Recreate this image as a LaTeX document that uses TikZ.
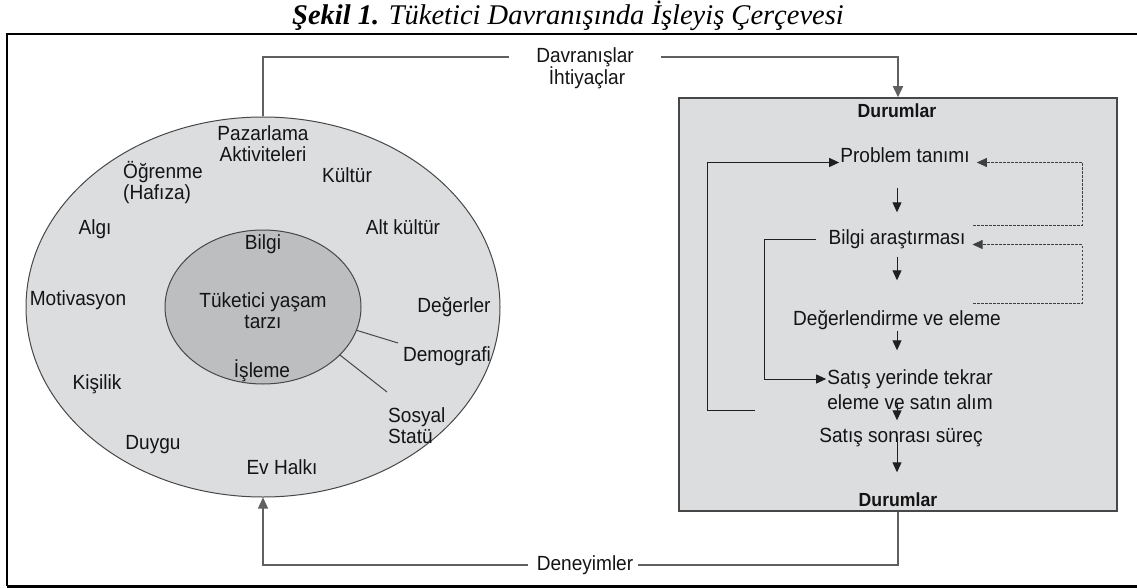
\documentclass[tikz,border=0pt]{standalone}
\usepackage{fontspec}
\setmainfont{Liberation Sans}[FakeStretch=0.93]
\newfontfamily\titlefont{Liberation Serif}
\usepackage{tikz}
\usetikzlibrary{arrows.meta, positioning, shapes.geometric}
\definecolor{panelGray}{HTML}{DCDDDF}
\definecolor{coreGray}{HTML}{BDBEC0}
\definecolor{edgeGray}{HTML}{474747}
\definecolor{railGray}{HTML}{606060}

\begin{document}
\begin{tikzpicture}[
    x=1pt, y=-1pt,
    lbl/.style={font=\fontsize{20.5pt}{21pt}\selectfont, text=black!92, inner sep=1pt, text height=15pt, text depth=4pt},
    stackLbl/.style={font=\fontsize{20.5pt}{21pt}\selectfont, text=black!92, inner sep=1pt},
    headLbl/.style={lbl, font=\fontsize{19pt}{21pt}\selectfont\bfseries},
    titleLbl/.style={font=\titlefont\itshape\fontsize{28.5pt}{30pt}\selectfont, inner sep=0pt},
    outerRing/.style={ellipse, draw=edgeGray, fill=panelGray, line width=1pt, minimum width=474pt, minimum height=380pt, inner sep=0pt},
    innerCore/.style={ellipse, draw=edgeGray, fill=coreGray, line width=1pt, minimum width=196pt, minimum height=154pt, inner sep=0pt},
    stageBox/.style={rectangle, draw=edgeGray, fill=panelGray, line width=1.5pt, minimum width=438pt, minimum height=413pt, inner sep=0pt},
    railLine/.style={railGray, line width=1.5pt},
    flowArrow/.style={-{Triangle[length=10pt, width=9pt]}, black!88, line width=1pt},
    backLink/.style={-{Triangle[length=10pt, width=9pt]}, black!75, line width=0.8pt, dash pattern=on 2.5pt off 1.5pt},
    leader/.style={edgeGray, line width=1pt},
    frameLine/.style={black, line width=1.5pt}
]
    \useasboundingbox (0,0) rectangle (1137,588);

    % Title and Frame
    \node[titleLbl] (title) at (568,15.5) {\textbf{Şekil 1.} Tüketici Davranışında İşleyiş Çerçevesi};
    \draw[frameLine] (1137,34) -- (7,34) -- (7,586);
    \draw[black, line width=3pt] (7,586) -- (1137,586);

    % Consumer Ellipses
    \node[outerRing] (outer) at (263,307) {};
    \node[innerCore] (inner) at (263,307) {};

    % Outer Ring Labels
    \node[stackLbl, align=center] (pazar) at (263,144) {Pazarlama\\Aktiviteleri};
    \node[stackLbl, align=left, anchor=west] (ogren) at (122,183) {Öğrenme\\(Hafıza)};
    \node[lbl] (kultur)  at (347,177) {Kültür};
    \node[lbl] (algi)    at (95,229)  {Algı};
    \node[lbl] (altk)    at (403,229) {Alt kültür};
    \node[lbl] (motiv)   at (78,300)  {Motivasyon};
    \node[lbl] (degerL)  at (454,307) {Değerler};
    \node[lbl] (demo)    at (447,356) {Demografi};
    \node[lbl] (kisilik) at (97,384)  {Kişilik};
    \node[stackLbl, align=left, anchor=west] (sosyal) at (387,426) {Sosyal\\Statü};
    \node[lbl] (duygu)   at (153,444) {Duygu};
    \node[lbl] (evh)     at (282,469) {Ev Halkı};

    % Inner Core Labels
    \node[lbl] (infoL)   at (263,244) {Bilgi};
    \node[stackLbl, align=center] (yasam) at (263,311) {Tüketici yaşam\\tarzı};
    \node[lbl] (isleme)  at (262,372) {İşleme};

    % Leaders to Demografi / Sosyal Statü
    \coordinate (demoTip) at (398,343);
    \coordinate (sosTip)  at (387,392);
    \draw[leader] (inner.-14) -- (demoTip);
    \draw[leader] (inner.-32) -- (sosTip);

    % Decision Process Box
    \node[stageBox] (box) at (898,304.5) {};
    \node[headLbl] (durTop) at (897,112) {Durumlar};
    \node[lbl] (probTan) at (905,157) {Problem tanımı};
    \node[lbl] (bilgiAr) at (897,239) {Bilgi araştırması};
    \node[lbl] (degEl)   at (897,320) {Değerlendirme ve eleme};
    \node[lbl] (satYer)  at (910,379) {Satış yerinde tekrar};
    \node[lbl] (satAlim) at (910,404) {eleme ve satın alım};
    \node[lbl] (satSon)  at (901,437) {Satış sonrası süreç};
    \node[headLbl] (durBot) at (898,501) {Durumlar};

    % Rails between the two parts
    \node[lbl] (davr)  at (585,57)  {Davranışlar};
    \node[lbl] (ihti)  at (587,79)  {İhtiyaçlar};
    \node[lbl] (deney) at (585,565) {Deneyimler};

    \draw[railLine, shorten >=26pt] (outer.north) |- (davr.west);
    \draw[railLine, -{Triangle[length=11pt, width=10pt]}, shorten <=26pt] (davr.east) -| (box.north);
    \draw[railLine, shorten >=4pt] (box.south) |- (deney.east);
    \draw[railLine, -{Triangle[length=11pt, width=10pt]}, shorten <=8pt] (deney.west) -| (outer.south);

    % Process Steps
    \draw[flowArrow, shorten <=20pt, shorten >=16pt] (probTan.south -| bilgiAr) -- (bilgiAr.north);
    \draw[flowArrow, shorten <=7pt, shorten >=29pt] (bilgiAr.south) -- (bilgiAr.south |- degEl.north);
    \draw[flowArrow, shorten >=18pt] (degEl.south -| bilgiAr) -- (satYer.north -| bilgiAr);
    \draw[flowArrow, shorten >=6pt] (satAlim.center -| bilgiAr) -- (satSon.north -| bilgiAr);
    \draw[flowArrow, shorten >=18pt] (satSon.center -| bilgiAr) -- (durBot.north -| bilgiAr);

    % Feedback Loops
    \coordinate (fbA)  at (973,225);
    \coordinate (fbB)  at (973,303);
    \coordinate (retA) at (755,410);
    \draw[backLink, shorten >=6pt] (fbA) -- ++(109,0) |- (probTan.base east);
    \draw[backLink, shorten >=6pt] (fbB) -- ++(109,0) |- (bilgiAr.base east);
    \draw[flowArrow, shorten <=11pt] (bilgiAr.west) -- ++(-63,0) |- (satYer.west);
    \draw[flowArrow] (retA) -- ++(-48,0) |- (probTan.base west);
\end{tikzpicture}
\end{document}
